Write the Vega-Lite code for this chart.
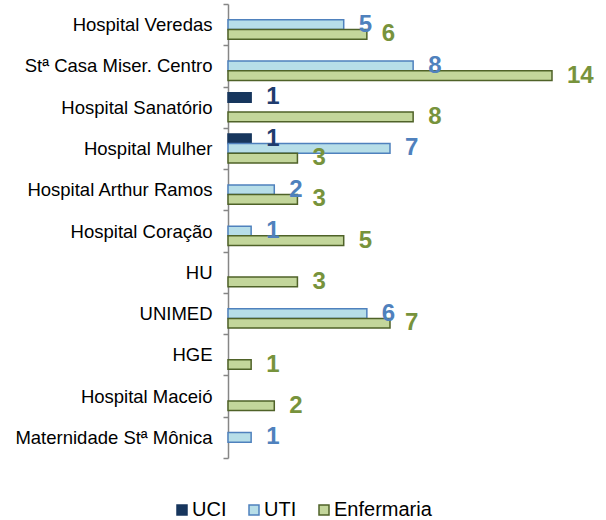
{
  "$schema": "https://vega.github.io/schema/vega-lite/v6.json",
  "width": 324,
  "height": 454,
  "autosize": {"type": "none"},
  "padding": {"left": 228, "top": 4, "right": 54, "bottom": 62},
  "config": {"view": {"stroke": null}, "font": "Liberation Sans"},
  "data": {"values": [
    {"h": "Hospital Veredas", "s": "UTI", "v": 5},
    {"h": "Hospital Veredas", "s": "Enfermaria", "v": 6},
    {"h": "Stª Casa Miser. Centro", "s": "UTI", "v": 8},
    {"h": "Stª Casa Miser. Centro", "s": "Enfermaria", "v": 14},
    {"h": "Hospital Sanatório", "s": "UCI", "v": 1},
    {"h": "Hospital Sanatório", "s": "Enfermaria", "v": 8},
    {"h": "Hospital Mulher", "s": "UCI", "v": 1},
    {"h": "Hospital Mulher", "s": "UTI", "v": 7},
    {"h": "Hospital Mulher", "s": "Enfermaria", "v": 3},
    {"h": "Hospital Arthur Ramos", "s": "UTI", "v": 2},
    {"h": "Hospital Arthur Ramos", "s": "Enfermaria", "v": 3},
    {"h": "Hospital Coração", "s": "UTI", "v": 1},
    {"h": "Hospital Coração", "s": "Enfermaria", "v": 5},
    {"h": "HU", "s": "Enfermaria", "v": 3},
    {"h": "UNIMED", "s": "UTI", "v": 6},
    {"h": "UNIMED", "s": "Enfermaria", "v": 7},
    {"h": "HGE", "s": "Enfermaria", "v": 1},
    {"h": "Hospital Maceió", "s": "Enfermaria", "v": 2},
    {"h": "Maternidade Stª Mônica", "s": "UTI", "v": 1}
  ]},
  "encoding": {
    "y": {
      "field": "h", "type": "nominal",
      "sort": ["Hospital Veredas", "Stª Casa Miser. Centro", "Hospital Sanatório", "Hospital Mulher", "Hospital Arthur Ramos", "Hospital Coração", "HU", "UNIMED", "HGE", "Hospital Maceió", "Maternidade Stª Mônica"],
      "scale": {"domain": ["Hospital Veredas", "Stª Casa Miser. Centro", "Hospital Sanatório", "Hospital Mulher", "Hospital Arthur Ramos", "Hospital Coração", "HU", "UNIMED", "HGE", "Hospital Maceió", "Maternidade Stª Mônica"], "paddingInner": 0, "paddingOuter": 0},
      "axis": {"title": null, "tickBand": "extent", "labelFontSize": 18.5, "labelColor": "#000000", "domainColor": "#868686", "tickColor": "#868686", "tickSize": 5, "labelPadding": 11, "domainWidth": 1.5, "tickWidth": 1.5, "labelLimit": 300}
    },
    "x": {"field": "v", "type": "quantitative", "scale": {"domain": [0, 14]}, "axis": null},
    "yOffset": {"field": "s", "type": "nominal", "sort": ["UCI", "UTI", "Enfermaria"], "scale": {"domain": ["UCI", "UTI", "Enfermaria"], "paddingOuter": 0.63, "paddingInner": 0}}
  },
  "layer": [
    {
      "mark": {"type": "bar", "strokeWidth": 1.5},
      "encoding": {
        "fill": {"field": "s", "type": "nominal", "title": null,
          "scale": {"domain": ["UCI", "UTI", "Enfermaria"], "range": ["#17365D", "#B7DEE8", "#C3D69B"]},
          "legend": {"orient": "none", "legendX": -56, "legendY": 496, "direction": "horizontal", "title": null, "symbolType": "square", "symbolSize": 100, "labelFontSize": 20, "labelColor": "#000000", "columnPadding": 17, "labelOffset": 0, "symbolStrokeWidth": 1.5}},
        "stroke": {"field": "s", "type": "nominal", "title": null,
          "scale": {"domain": ["UCI", "UTI", "Enfermaria"], "range": ["#17365D", "#4F81BD", "#4F6228"]},
          "legend": {"orient": "none", "legendX": -56, "legendY": 496, "direction": "horizontal", "title": null, "symbolType": "square", "symbolSize": 100, "labelFontSize": 20, "labelColor": "#000000", "columnPadding": 17, "labelOffset": 0, "symbolStrokeWidth": 1.5}}
      }
    },
    {
      "mark": {"type": "text", "align": "left", "baseline": "middle", "dx": 15, "fontSize": 24, "fontWeight": "bold"},
      "encoding": {
        "text": {"field": "v", "type": "quantitative"},
        "color": {"field": "s", "type": "nominal", "scale": {"domain": ["UCI", "UTI", "Enfermaria"], "range": ["#1F3C6E", "#4F81BD", "#77933C"]}, "legend": null}
      }
    }
  ],
  "resolve": {"scale": {"color": "independent"}}
}
